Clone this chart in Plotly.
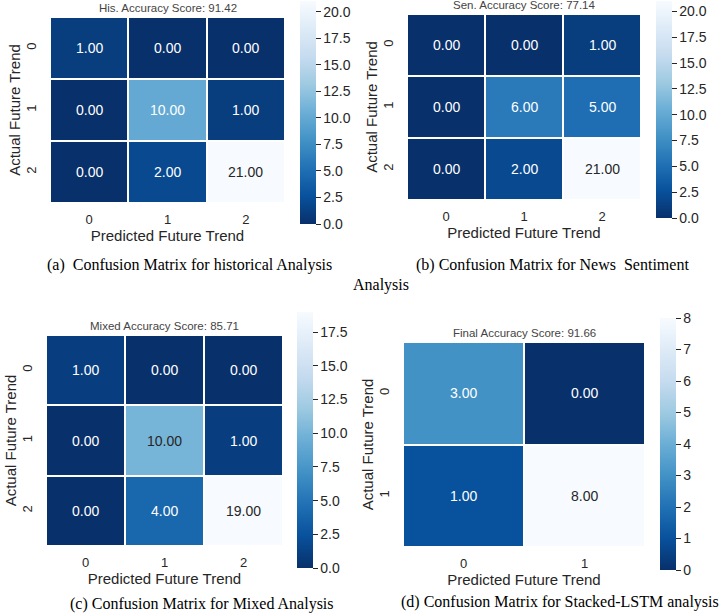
import plotly.graph_objects as go

# confusion matrices (rows = actual, cols = predicted)
his_matrix = [[1, 0, 0],
              [0, 10, 1],
              [0, 2, 21]]
sen_matrix = [[0, 0, 1],
              [0, 6, 5],
              [0, 2, 21]]
mixed_matrix = [[1, 0, 0],
                [0, 10, 1],
                [0, 4, 19]]
final_matrix = [[3, 0],
                [1, 8]]

labels3 = ['0', '1', '2']
labels2 = ['0', '1']

titles = ['His. Accuracy Score: 91.42', 'Sen. Accuracy Score: 77.14',
          'Mixed Accuracy Score: 85.71', 'Final Accuracy Score: 91.66']

W, H = 720, 615


def px(x):
    return x / W


def py(y):
    return 1 - y / H


# matplotlib Blues reversed
blues_r = [[0, '#08306b'], [0.125, '#08519c'], [0.25, '#2171b5'], [0.375, '#4292c6'],
           [0.5, '#6baed6'], [0.625, '#9ecae1'], [0.75, '#c6dbef'], [0.875, '#deebf7'],
           [1, '#f7fbff']]

# pixel boxes: heatmap (left, right, top, bottom), colorbar (left, top, length)
panels = [
    dict(z=his_matrix, labels=labels3, box=(50, 285, 17, 203), cb=(300, 1, 223), dtick=2.5, fmt='.1f'),
    dict(z=sen_matrix, labels=labels3, box=(407, 641, 14, 200), cb=(656, 1, 217), dtick=2.5, fmt='.1f'),
    dict(z=mixed_matrix, labels=labels3, box=(46, 283, 335, 546), cb=(297, 312, 256), dtick=2.5, fmt='.1f'),
    dict(z=final_matrix, labels=labels2, box=(403, 645, 342, 547), cb=(660, 318, 252), dtick=1, fmt='d'),
]

FONT = 'Liberation Sans, Arial, sans-serif'
TXT = '#262626'

fig = go.Figure()
annotations = []
layout = {}

for i, p in enumerate(panels):
    n = i + 1
    xa = 'x' if n == 1 else 'x%d' % n
    ya = 'y' if n == 1 else 'y%d' % n
    l, r, t, b = p['box']
    zmax = max(max(row) for row in p['z'])
    cbx, cbt, cblen = p['cb']
    fig.add_trace(go.Heatmap(
        z=p['z'], x=p['labels'], y=p['labels'],
        xaxis=xa, yaxis=ya,
        colorscale=blues_r, zmin=0, zmax=zmax,
        xgap=2, ygap=2, hoverinfo='z',
        colorbar=dict(x=px(cbx), xanchor='left', y=py(cbt), yanchor='top',
                      len=cblen, lenmode='pixels', thickness=16, xpad=0, ypad=0,
                      outlinewidth=0, ticks='outside', ticklen=5, tickwidth=1.2,
                      tickcolor=TXT, tick0=0, dtick=p['dtick'], tickformat=p['fmt'],
                      tickfont=dict(size=14, color=TXT, family=FONT)),
    ))
    key = 'xaxis' if n == 1 else 'xaxis%d' % n
    ykey = 'yaxis' if n == 1 else 'yaxis%d' % n
    layout[key] = dict(domain=[px(l), px(r)], anchor=ya, type='category',
                       showgrid=False, zeroline=False, showline=False, ticks='',
                       ticklabelstandoff=7,
                       tickfont=dict(size=13, color=TXT),
                       title=dict(text='Predicted Future Trend', standoff=0,
                                  font=dict(size=15, color=TXT)))
    layout[ykey] = dict(domain=[py(b), py(t)], anchor=xa, type='category',
                        autorange='reversed', showgrid=False, zeroline=False,
                        showline=False, ticks='', tickangle=-90,
                        ticklabelstandoff=10,
                        tickfont=dict(size=13, color=TXT),
                        title=dict(text='Actual Future Trend', standoff=0,
                                   font=dict(size=15, color=TXT)))
    # cell values
    for ri, row in enumerate(p['z']):
        for ci, v in enumerate(row):
            annotations.append(dict(
                x=p['labels'][ci], y=p['labels'][ri], xref=xa, yref=ya,
                text='%.2f' % v, showarrow=False,
                font=dict(size=14, family=FONT,
                          color=TXT if v / zmax > 0.5 else 'white')))
    # panel title
    annotations.append(dict(x=px((l + r) / 2), y=py(t - 1), xref='paper', yref='paper',
                            xanchor='center', yanchor='bottom', text=titles[i],
                            showarrow=False, font=dict(size=11.5, color='#444444')))

# captions under the panels
captions = [
    ('(a)  Confusion Matrix for historical Analysis', 189, 265),
    ('(b) Confusion Matrix for News&nbsp;&nbsp;Sentiment', 552, 265),
    ('Analysis', 381, 285),
    ('(c) Confusion Matrix for Mixed Analysis', 202, 604),
    ('(d) Confusion Matrix for Stacked-LSTM analysis', 560, 602),
]
for text, cx, cy in captions:
    annotations.append(dict(x=px(cx), y=py(cy), xref='paper', yref='paper',
                            xanchor='center', yanchor='middle', text=text, showarrow=False,
                            font=dict(size=16, color='black',
                                      family='Liberation Serif, Times New Roman, serif')))

fig.update_layout(
    width=W, height=H,
    margin=dict(l=0, r=0, t=0, b=0),
    paper_bgcolor='white', plot_bgcolor='white',
    font=dict(family=FONT, color=TXT),
    annotations=annotations,
    **layout
)

fig.write_html('out.html', config={'displayModeBar': False},
               post_script="document.body.style.margin='0';")
